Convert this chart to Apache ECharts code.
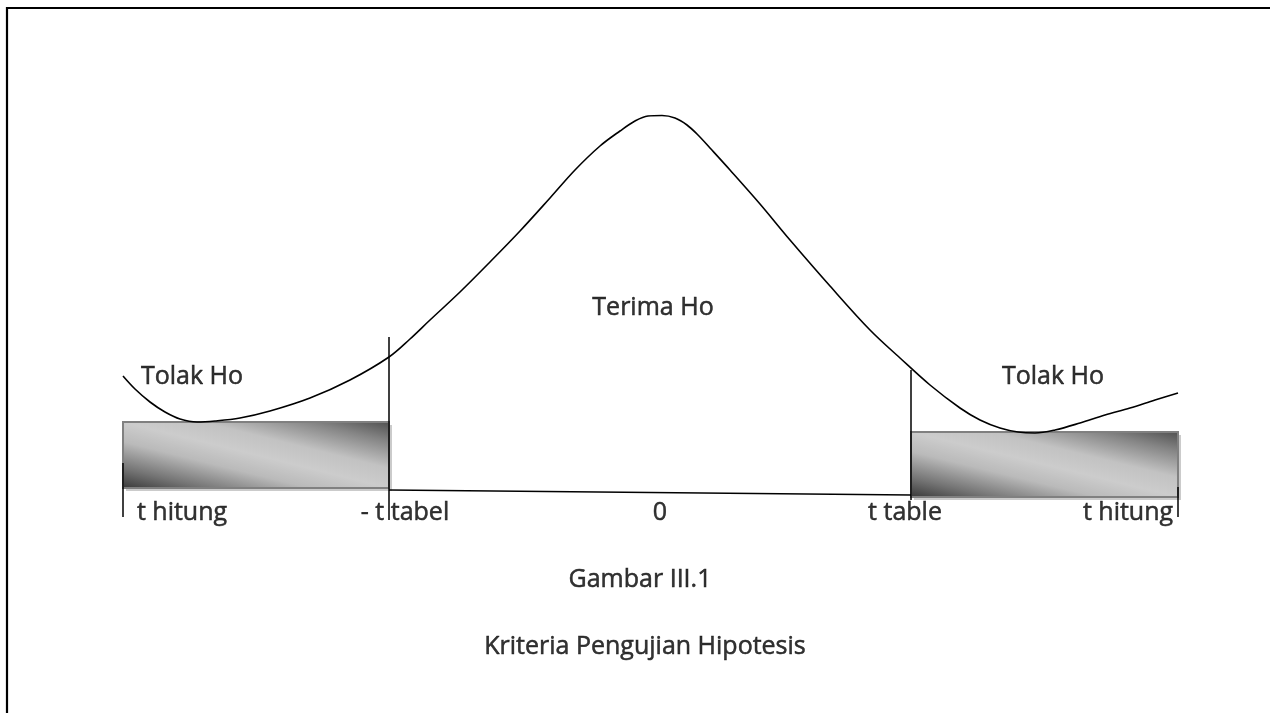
<!DOCTYPE html>
<html>
<head>
<meta charset="utf-8">
<script src="https://cdn.jsdelivr.net/npm/echarts@6/dist/echarts.min.js"></script>
<style>
  html, body { margin: 0; padding: 0; background: #ffffff; }
  #chart { width: 1270px; height: 713px; }
</style>
</head>
<body>
<div id="chart"></div>
<script>
// ---- Data (diagram units: x = horizontal position, y = vertical position, axis inverted) ----
var curveX = [123, 135, 150, 165, 180, 197, 215, 240, 270, 310, 350, 389, 410, 430, 460, 490, 520, 550, 575, 600, 620, 635, 648, 662, 675, 687, 698, 710, 730, 760, 790, 830, 870, 900, 930, 960, 980, 1000, 1018, 1035, 1055, 1080, 1105, 1130, 1155, 1178];
var curveY = [376, 389, 402, 412, 419, 422, 421, 418, 411, 398, 380, 357, 339, 320, 292, 262, 231, 198, 170, 146, 131, 121, 116, 115.5, 118, 125, 135, 148, 170, 204, 240, 286, 330, 358, 385, 408, 420, 428, 432, 433, 430, 423, 415, 408, 400, 393];

// rejection regions (x0, x1, yTop, yBottom)
var boxX0 = [123, 911];
var boxX1 = [389, 1178];
var boxTop = [422, 432];
var boxBottom = [488, 497];

// line segments: critical values, baseline, end ticks
var segX0 = [389, 911, 389, 123, 1178];
var segY0 = [337, 370, 490, 463, 487];
var segX1 = [389, 911, 911, 123, 1178];
var segY1 = [520, 500, 495, 517, 517];

// text labels
var labelTexts = ['Tolak Ho', 'Tolak Ho', 'Terima Ho', 't hitung', '- t tabel', '0', 't table', 't hitung', 'Gambar III.1', 'Kriteria Pengujian Hipotesis'];
var labelX = [192, 1053, 653, 182, 405, 660, 905, 1128, 640, 645];
var labelY = [377, 377, 308, 513, 513, 513, 513, 513, 580, 647];

// ---- Build options ----
var curveData = curveX.map(function (x, i) { return [x, curveY[i]]; });
var boxData = boxX0.map(function (x, i) { return [x, boxTop[i], boxX1[i], boxBottom[i]]; });
var segSeries = segX0.map(function (x, i) {
  return {
    type: 'line',
    data: [[x, segY0[i]], [segX1[i], segY1[i]]],
    symbol: 'none',
    silent: true,
    lineStyle: { color: '#000', width: 1.5 },
    z: 4
  };
});
var labelData = labelTexts.map(function (t, i) { return { name: t, value: [labelX[i], labelY[i]] }; });

var chart = echarts.init(document.getElementById('chart'), null, { renderer: 'canvas' });
var FONT = 'Open Sans';

function boxFill(x, y, w, h) {
  // gradient perpendicular to the box diagonal (top-left -> bottom-right)
  var L = Math.sqrt(w * w + h * h);
  var dx = h / L, dy = -w / L;            // points toward top-right
  var reach = w * h / L;                  // distance centre -> corner along d
  var cx = x + w / 2, cy = y + h / 2;
  return new echarts.graphic.LinearGradient(
    cx - dx * reach, cy - dy * reach, cx + dx * reach, cy + dy * reach, [
      { offset: 0, color: '#3a3a3a' },
      { offset: 0.15, color: '#747474' },
      { offset: 0.35, color: '#bababa' },
      { offset: 0.5, color: '#cccccc' },
      { offset: 0.65, color: '#c2c2c2' },
      { offset: 0.85, color: '#858585' },
      { offset: 1, color: '#515151' }
    ], true);
}

var option = {
  animation: false,
  backgroundColor: '#ffffff',
  grid: { left: 0, right: 0, top: 0, bottom: 0 },
  xAxis: { type: 'value', min: 0, max: 1270, show: false },
  yAxis: { type: 'value', min: 0, max: 713, inverse: true, show: false },
  graphic: [{
    type: 'polyline',
    shape: { points: [[7, 713], [7, 8], [1270, 8]] },
    style: { stroke: '#000', lineWidth: 2.2, fill: null },
    z: 10
  }],
  series: [
    {
      type: 'custom',
      data: boxData,
      z: 2,
      silent: true,
      renderItem: function (params, api) {
        var p0 = api.coord([api.value(0), api.value(1)]);
        var p1 = api.coord([api.value(2), api.value(3)]);
        var w = p1[0] - p0[0], h = p1[1] - p0[1];
        return {
          type: 'group',
          children: [
            {
              type: 'rect',
              shape: { x: p0[0] + 3, y: p0[1] + 3, width: w, height: h },
              style: { fill: '#cbcbcb' }
            },
            {
              type: 'rect',
              shape: { x: p0[0], y: p0[1], width: w, height: h },
              style: {
                fill: boxFill(p0[0], p0[1], w, h),
                stroke: '#808080',
                lineWidth: 2
              }
            }
          ]
        };
      }
    },
    {
      type: 'line',
      data: curveData,
      smooth: 0.35,
      symbol: 'none',
      silent: true,
      lineStyle: { color: '#000', width: 1.6 },
      z: 5
    }
  ].concat(segSeries).concat([
    {
      type: 'scatter',
      data: labelData,
      symbolSize: 0,
      silent: true,
      z: 6,
      label: {
        show: true,
        position: 'inside',
        formatter: '{b}',
        color: '#000',
        fontFamily: FONT,
        fontSize: 25,
        textBorderColor: '#000',
        textBorderWidth: 0.5,
        align: 'center',
        verticalAlign: 'middle'
      }
    }
  ])
};
chart.setOption(option);
</script>
</body>
</html>
